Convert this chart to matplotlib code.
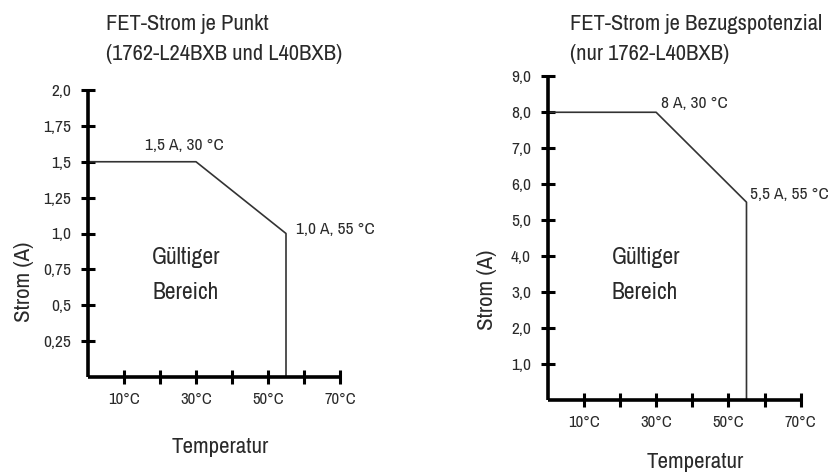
import matplotlib
matplotlib.use("Agg")
import matplotlib.pyplot as plt

plt.rcParams['font.family'] = ['Archivo Narrow', 'DejaVu Sans']

# ---- data ----
temps_left = [0, 30, 55, 55]
current_left = [1.5, 1.5, 1.0, 0.0]
temps_right = [0, 30, 55, 55]
current_right = [8.0, 8.0, 5.5, 0.0]

x_ticks = [10, 20, 30, 40, 50, 60, 70]
x_tick_labels = ["10°C", "", "30°C", "", "50°C", "", "70°C"]
y_ticks_left = [0.25, 0.5, 0.75, 1.0, 1.25, 1.5, 1.75, 2.0]
y_tick_labels_left = ["0,25", "0,5", "0,75", "1,0", "1,25", "1,5", "1,75", "2,0"]
y_ticks_right = [1, 2, 3, 4, 5, 6, 7, 8, 9]
y_tick_labels_right = ["1,0", "2,0", "3,0", "4,0", "5,0", "6,0", "7,0", "8,0", "9,0"]

W, H = 833, 474
fig = plt.figure(figsize=(W / 100, H / 100), dpi=100)


def rect(x0, y0, x1, y1):
    return [x0 / W, 1 - y1 / H, (x1 - x0) / W, (y1 - y0) / H]


def fpos(x, y):
    return x / W, 1 - y / H


def style(ax, xmax, ymax, yt, ytl):
    ax.set_xlim(0, xmax)
    ax.set_ylim(0, ymax)
    for s in ("top", "right"):
        ax.spines[s].set_visible(False)
    for s in ("left", "bottom"):
        ax.spines[s].set_linewidth(2.6)
        ax.spines[s].set_capstyle("butt")
    ax.set_xticks(x_ticks)
    ax.set_xticklabels(x_tick_labels, fontsize=12, color="#2a2a2a")
    ax.set_yticks(yt)
    ax.set_yticklabels(ytl, fontsize=12.5, color="#2a2a2a")
    ax.tick_params(axis="both", direction="inout", length=10, width=2.2)
    ax.tick_params(axis="x", pad=6)
    ax.tick_params(axis="y", pad=7)
    ax.patch.set_alpha(0)


TXT = dict(color="#2a2a2a")
ANN = 12.5
BIG = 17
TITLE = 16.2
AXL = 16.5

# ---- left chart ----
axL = fig.add_axes(rect(88, 90, 340, 377))
axL.plot(temps_left, current_left, color="#333333", lw=1.2)
style(axL, 70, 2.0, y_ticks_left, y_tick_labels_left)
axL.text(15.8, 1.61, "1,5 A, 30 °C", fontsize=ANN, va="center", ha="left", **TXT)
axL.text(57.8, 1.03, "1,0 A, 55 °C", fontsize=ANN, va="center", ha="left", **TXT)
axL.text(17.8, 0.836, "Gültiger", fontsize=BIG, va="center", ha="left", **TXT)
axL.text(17.8, 0.59, "Bereich", fontsize=BIG, va="center", ha="left", **TXT)
fig.text(*fpos(106, 24), "FET-Strom je Punkt", fontsize=TITLE, va="center", ha="left", **TXT)
fig.text(*fpos(106, 54), "(1762-L24BXB und L40BXB)", fontsize=TITLE, va="center", ha="left", **TXT)
fig.text(*fpos(24, 282), "Strom (A)", fontsize=AXL, rotation=90, va="center", ha="center", **TXT)
fig.text(*fpos(220, 447), "Temperatur", fontsize=AXL, va="center", ha="center", **TXT)

# ---- right chart ----
axR = fig.add_axes(rect(547.7, 76.3, 800.7, 400))
axR.plot(temps_right, current_right, color="#333333", lw=1.2)
style(axR, 70, 9.0, y_ticks_right, y_tick_labels_right)
axR.text(31.3, 8.25, "8 A, 30 °C", fontsize=ANN, va="center", ha="left", **TXT)
axR.text(56.0, 5.72, "5,5 A, 55 °C", fontsize=ANN, va="center", ha="left", **TXT)
axR.text(17.7, 3.97, "Gültiger", fontsize=BIG, va="center", ha="left", **TXT)
axR.text(17.7, 3.0, "Bereich", fontsize=BIG, va="center", ha="left", **TXT)
fig.text(*fpos(570, 24), "FET-Strom je Bezugspotenzial", fontsize=TITLE, va="center", ha="left", **TXT)
fig.text(*fpos(570, 54), "(nur 1762-L40BXB)", fontsize=TITLE, va="center", ha="left", **TXT)
fig.text(*fpos(487, 290), "Strom (A)", fontsize=AXL, rotation=90, va="center", ha="center", **TXT)
fig.text(*fpos(695, 462), "Temperatur", fontsize=AXL, va="center", ha="center", **TXT)

fig.savefig("out.png", dpi=100)
